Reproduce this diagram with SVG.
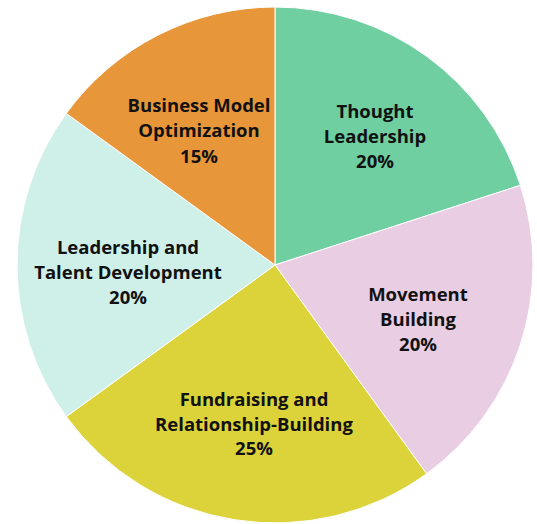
<svg xmlns="http://www.w3.org/2000/svg" width="537" height="524" viewBox="0 0 537 524">
<style>
.s{stroke:#ffffff;stroke-width:1}
.t{font-family:"Open Sans","Noto Sans","Liberation Sans",sans-serif;font-weight:700;font-size:18.5px;fill:#111111;text-anchor:middle}
</style>
<rect width="537" height="524" fill="#ffffff"/>
<g id="thought">
<path class="s" fill="#6FCFA1" d="M275,265 L275,7 A258,258 0 0 1 520.4,185.3 Z"/>
<text class="t" x="375" y="118">Thought</text>
<text class="t" x="375" y="143">Leadership</text>
<text class="t" x="375" y="168">20%</text>
</g>
<g id="movement">
<path class="s" fill="#E9CDE2" d="M275,265 L520.4,185.3 A258,258 0 0 1 426.6,473.7 Z"/>
<text class="t" x="418" y="301">Movement</text>
<text class="t" x="418" y="326">Building</text>
<text class="t" x="418" y="351">20%</text>
</g>
<g id="fundraising">
<path class="s" fill="#DCD33A" d="M275,265 L426.6,473.7 A258,258 0 0 1 66.3,416.6 Z"/>
<text class="t" x="254" y="406">Fundraising and</text>
<text class="t" x="254" y="431">Relationship-Building</text>
<text class="t" x="254" y="455">25%</text>
</g>
<g id="leadership">
<path class="s" fill="#CFEFE9" d="M275,265 L66.3,416.6 A258,258 0 0 1 66.3,113.4 Z"/>
<text class="t" x="128" y="254">Leadership and</text>
<text class="t" x="128" y="279">Talent Development</text>
<text class="t" x="128" y="304">20%</text>
</g>
<g id="business">
<path class="s" fill="#E8963A" d="M275,265 L66.3,113.4 A258,258 0 0 1 275,7 Z"/>
<text class="t" x="199" y="112">Business Model</text>
<text class="t" x="199" y="137">Optimization</text>
<text class="t" x="199" y="163">15%</text>
</g>
<g id="connectors"></g>
</svg>
